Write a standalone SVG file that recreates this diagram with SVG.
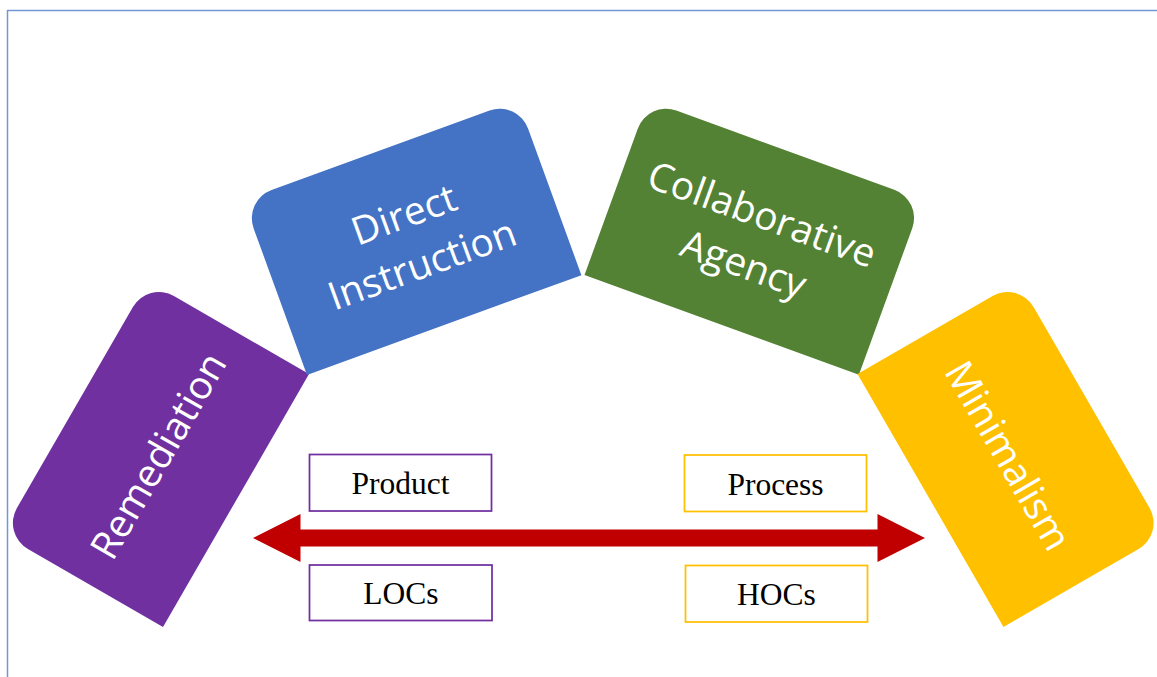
<svg xmlns="http://www.w3.org/2000/svg" width="1157" height="677" viewBox="0 0 1157 677">
  <defs>
    <!-- rectangle with rounded top corners; origin at bottom-left corner -->
    <path id="tab" d="M0,0 L292,0 L292,-156 A30,30 0 0 0 262,-186 L30,-186 A30,30 0 0 0 0,-156 Z"/>
  </defs>
  <style>
    .lbl { font-family: "Open Sans", "Noto Sans", "DejaVu Sans", sans-serif; font-size: 39px; fill: #FFFFFF; text-anchor: middle; }
    .box { fill: #FFFFFF; stroke-width: 1.75; }
    .box-purple { stroke: #7030A0; }
    .box-gold { stroke: #FFC000; }
    .tag { font-family: "Liberation Serif", "Times New Roman", serif; font-size: 31.5px; fill: #000000; text-anchor: middle; }
  </style>

  <rect width="1157" height="677" fill="#FFFFFF"/>
  <!-- frame edges -->
  <g id="frame" stroke="#7396D6" stroke-width="1.5" fill="none">
    <line x1="7" y1="10.5" x2="1157" y2="10.5"/>
    <line x1="7.5" y1="10" x2="7.5" y2="677"/>
  </g>

  <g id="remediation" transform="translate(163,627) rotate(-60)">
    <use href="#tab" fill="#7030A0"/>
    <text class="lbl" x="146" y="-76">Remediation</text>
  </g>

  <g id="direct-instruction" transform="translate(307,375) rotate(-20)">
    <use href="#tab" fill="#4472C4"/>
    <text class="lbl" x="146" y="-104">Direct</text>
    <text class="lbl" x="146" y="-51">Instruction</text>
  </g>

  <g id="collaborative-agency" transform="translate(584.5,275) rotate(20)">
    <use href="#tab" fill="#548235"/>
    <text class="lbl" x="146" y="-104">Collaborative</text>
    <text class="lbl" x="146" y="-51">Agency</text>
  </g>

  <g id="minimalism" transform="translate(857.5,374) rotate(60)">
    <use href="#tab" fill="#FFC000"/>
    <text class="lbl" x="146" y="-76">Minimalism</text>
  </g>

  <!-- double-headed spectrum arrow -->
  <g id="connectors">
    <polygon fill="#C00000" points="253,538 300.5,514 300.5,529.5 877.5,529.5 877.5,514 925,538 877.5,562 877.5,546.5 300.5,546.5 300.5,562"/>
  </g>

  <g id="product">
    <rect class="box box-purple" x="309.5" y="454.5" width="182" height="56.5"/>
    <text class="tag" x="400.5" y="494">Product</text>
  </g>
  <g id="locs">
    <rect class="box box-purple" x="309.5" y="565" width="182.5" height="55.5"/>
    <text class="tag" x="401" y="604">LOCs</text>
  </g>
  <g id="process">
    <rect class="box box-gold" x="684.5" y="455" width="182" height="56.5"/>
    <text class="tag" x="775.5" y="495">Process</text>
  </g>
  <g id="hocs">
    <rect class="box box-gold" x="685.5" y="565.5" width="182" height="56.5"/>
    <text class="tag" x="776.5" y="605">HOCs</text>
  </g>
</svg>
